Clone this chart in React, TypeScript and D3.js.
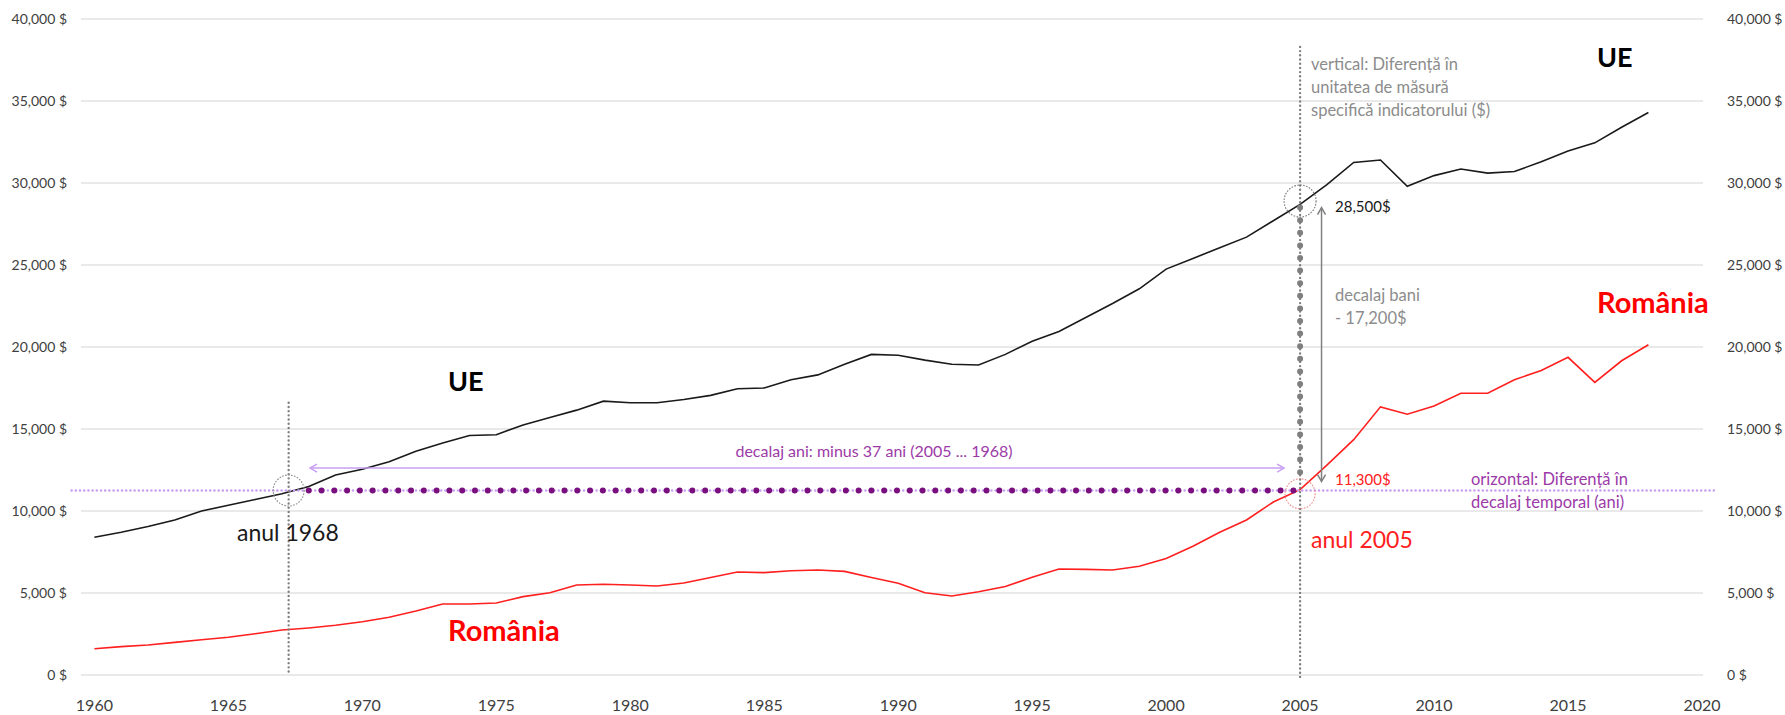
import * as d3 from 'd3';
import { useRef, useEffect } from 'react';

const years = [
    1960, 1961, 1962, 1963, 1964, 1965, 1966, 1967, 1968, 1969,
    1970, 1971, 1972, 1973, 1974, 1975, 1976, 1977, 1978, 1979,
    1980, 1981, 1982, 1983, 1984, 1985, 1986, 1987, 1988, 1989,
    1990, 1991, 1992, 1993, 1994, 1995, 1996, 1997, 1998, 1999,
    2000, 2001, 2002, 2003, 2004, 2005, 2006, 2007, 2008, 2009,
    2010, 2011, 2012, 2013, 2014, 2015, 2016, 2017, 2018,
];

const ueValues = [
    8400, 8700, 9050, 9450, 10000, 10350, 10700, 11050, 11500, 12200,
    12550, 13000, 13650, 14150, 14600, 14650, 15250, 15700, 16150, 16700,
    16600, 16600, 16800, 17050, 17450, 17500, 18000, 18300, 18950, 19550,
    19500, 19200, 18950, 18900, 19550, 20350, 20950, 21800, 22650, 23550,
    24750, 25400, 26050, 26700, 27700, 28700, 29900, 31250, 31400, 29800,
    30450, 30850, 30600, 30700, 31300, 31950, 32450, 33400, 34300,
];

const romaniaValues = [
    1600, 1730, 1830, 1990, 2150, 2300, 2520, 2740, 2870, 3030,
    3250, 3520, 3900, 4330, 4330, 4390, 4780, 5020, 5490, 5530,
    5490, 5430, 5610, 5950, 6280, 6240, 6360, 6400, 6320, 5950,
    5600, 5020, 4820, 5080, 5400, 5960, 6460, 6440, 6400, 6630,
    7100, 7850, 8700, 9450, 10550, 11300, 12800, 14350, 16350, 15900,
    16400, 17180, 17180, 18000, 18570, 19370, 17840, 19160, 20140,
];

const xTicks = [1960, 1965, 1970, 1975, 1980, 1985, 1990, 1995, 2000, 2005, 2010, 2015, 2020];
const yTicks = [0, 5000, 10000, 15000, 20000, 25000, 30000, 35000, 40000];

// annotation anchors, in data units
const yearEarly = 1967.25;
const yearLate = 2005;
const lagValue = 11250;
const ueMark = 28500;

const FONT = 'Lato, "Open Sans", sans-serif';

const App = () => {
    const svgRef = useRef<SVGSVGElement | null>(null);

    useEffect(() => {
        const width = 1785;
        const height = 715;

        d3.select(svgRef.current).selectAll('*').remove();

        const svg = d3.select(svgRef.current)
            .attr('width', width)
            .attr('height', height)
            .style('font-family', FONT);

        const x = d3.scaleLinear().domain([1959.5, 2020]).range([81, 1702]);
        const y = d3.scaleLinear().domain([0, 40000]).range([675, 19]);
        const fmt = d3.format(',');

        // gridlines
        svg.append('g')
            .selectAll('line')
            .data(yTicks)
            .enter()
            .append('line')
            .attr('x1', 81)
            .attr('x2', 1703)
            .attr('y1', d => y(d))
            .attr('y2', d => y(d))
            .attr('stroke', '#e2e2e2')
            .attr('stroke-width', 1.3);

        // y labels, both sides
        svg.append('g')
            .selectAll('text')
            .data(yTicks)
            .enter()
            .append('text')
            .attr('x', 67)
            .attr('y', d => y(d))
            .attr('dy', '0.35em')
            .attr('text-anchor', 'end')
            .attr('font-size', 14)
            .attr('fill', '#404040')
            .text(d => `${fmt(d)} $`);

        svg.append('g')
            .selectAll('text')
            .data(yTicks)
            .enter()
            .append('text')
            .attr('x', 1727)
            .attr('y', d => y(d))
            .attr('dy', '0.35em')
            .attr('text-anchor', 'start')
            .attr('font-size', 14)
            .attr('fill', '#404040')
            .text(d => `${fmt(d)} $`);

        // x labels
        svg.append('g')
            .selectAll('text')
            .data(xTicks)
            .enter()
            .append('text')
            .attr('x', d => x(d))
            .attr('y', 711)
            .attr('text-anchor', 'middle')
            .attr('font-size', 16)
            .attr('fill', '#404040')
            .text(d => d);

        // series
        const line = d3.line<number>()
            .x((_, i) => x(years[i]))
            .y(d => y(d));

        svg.append('path')
            .datum(romaniaValues)
            .attr('d', line)
            .attr('fill', 'none')
            .attr('stroke', '#ff1f1f')
            .attr('stroke-width', 1.6);

        svg.append('path')
            .datum(ueValues)
            .attr('d', line)
            .attr('fill', 'none')
            .attr('stroke', '#1a1a1a')
            .attr('stroke-width', 1.6);

        // light purple horizontal dotted line
        svg.append('line')
            .attr('x1', x(1959.15))
            .attr('x2', x(2020.5))
            .attr('y1', y(lagValue))
            .attr('y2', y(lagValue))
            .attr('stroke', '#c99ff3')
            .attr('stroke-width', 2.6)
            .attr('stroke-linecap', 'round')
            .attr('stroke-dasharray', '0 4.2');

        // vertical gray dotted lines
        const vDotted = (year: number, top: number, bottom: number) => {
            svg.append('line')
                .attr('x1', x(year))
                .attr('x2', x(year))
                .attr('y1', y(top))
                .attr('y2', y(bottom))
                .attr('stroke', '#808080')
                .attr('stroke-width', 2.4)
                .attr('stroke-linecap', 'round')
                .attr('stroke-dasharray', '0 4.2');
        };
        vDotted(yearEarly, 16600, 0);
        vDotted(yearLate, 38300, -150);

        // thick beads, gray vertical and purple horizontal
        svg.append('line')
            .attr('x1', x(yearLate))
            .attr('x2', x(yearLate))
            .attr('y1', y(ueMark))
            .attr('y2', y(11900))
            .attr('stroke', '#7f7f7f')
            .attr('stroke-width', 6)
            .attr('stroke-linecap', 'round')
            .attr('stroke-dasharray', '0 12.6');

        svg.append('line')
            .attr('x1', x(1968))
            .attr('x2', x(2004.75))
            .attr('y1', y(lagValue))
            .attr('y2', y(lagValue))
            .attr('stroke', '#7a0f7e')
            .attr('stroke-width', 6)
            .attr('stroke-linecap', 'round')
            .attr('stroke-dasharray', `0 ${(x(2004.75) - x(1968)) / 77}`);

        // circles
        const circle = (cx: number, cy: number, r: number, color: string) => {
            svg.append('circle')
                .attr('cx', cx)
                .attr('cy', cy)
                .attr('r', r)
                .attr('fill', 'none')
                .attr('stroke', color)
                .attr('stroke-width', 1.1)
                .attr('stroke-dasharray', '1.6 1.4');
        };
        circle(x(yearEarly), y(lagValue), 15.5, '#8a8a8a');
        circle(x(yearLate), y(28900), 16, '#7a7a7a');
        circle(x(yearLate), y(11050), 15, '#f08a8a');

        // arrows
        const chevron = (tx: number, ty: number, angle: number, color: string, len: number) => {
            const a1 = angle + Math.PI * 5 / 6;
            const a2 = angle - Math.PI * 5 / 6;
            svg.append('path')
                .attr('d', `M${tx + len * Math.cos(a1)},${ty + len * Math.sin(a1)}L${tx},${ty}L${tx + len * Math.cos(a2)},${ty + len * Math.sin(a2)}`)
                .attr('fill', 'none')
                .attr('stroke', color)
                .attr('stroke-width', 1.5);
        };

        const ax = x(2005.8);
        svg.append('line')
            .attr('x1', ax).attr('x2', ax)
            .attr('y1', y(ueMark) + 1).attr('y2', y(11800) - 1)
            .attr('stroke', '#808080')
            .attr('stroke-width', 1.5);
        chevron(ax, y(ueMark), -Math.PI / 2, '#808080', 8);
        chevron(ax, y(11800), Math.PI / 2, '#808080', 8);

        const ay = y(12620);
        svg.append('line')
            .attr('x1', x(1968.05)).attr('x2', x(2004.4))
            .attr('y1', ay).attr('y2', ay)
            .attr('stroke', '#c99ff3')
            .attr('stroke-width', 1.5);
        chevron(x(1968.05), ay, Math.PI, '#c99ff3', 8);
        chevron(x(2004.4), ay, 0, '#c99ff3', 8);

        // texts
        const label = (tx: number, ty: number, str: string, size: number, color: string, weight = 'normal', anchor = 'start') => {
            svg.append('text')
                .attr('x', tx)
                .attr('y', ty)
                .attr('font-size', size)
                .attr('font-weight', weight)
                .attr('fill', color)
                .attr('text-anchor', anchor)
                .text(str);
        };

        label(448, 391, 'UE', 27, '#000', 'bold');
        label(448, 641, 'România', 29, '#ff0000', 'bold');
        label(1597, 67, 'UE', 27, '#000', 'bold');
        label(1597, 313, 'România', 29, '#ff0000', 'bold');

        label(237, 541, 'anul 1968', 23, '#1a1a1a');
        label(1311, 548, 'anul 2005', 23, '#ff2020');

        label(1335, 212, '28,500$', 15, '#1a1a1a');
        label(1335, 485, '11,300$', 15, '#ff2020');

        label(1311, 70, 'vertical: Diferență în', 16.5, '#8c8c8c');
        label(1311, 93, 'unitatea de măsură', 16.5, '#8c8c8c');
        label(1311, 116, 'specifică indicatorului ($)', 16.5, '#8c8c8c');

        label(1335, 301, 'decalaj bani', 16.5, '#8c8c8c');
        label(1335, 324, '- 17,200$', 16.5, '#8c8c8c');

        label(874, 457, 'decalaj ani: minus 37 ani (2005 ... 1968)', 16, '#9c3aa8', 'normal', 'middle');
        label(1471, 485, 'orizontal: Diferență în', 16.5, '#9c3aa8');
        label(1471, 508, 'decalaj temporal (ani)', 16.5, '#9c3aa8');

    }, []);

    return (
        <svg ref={svgRef} style={{ position: 'absolute', left: 0, top: 0 }}></svg>
    );
};

export default App;
